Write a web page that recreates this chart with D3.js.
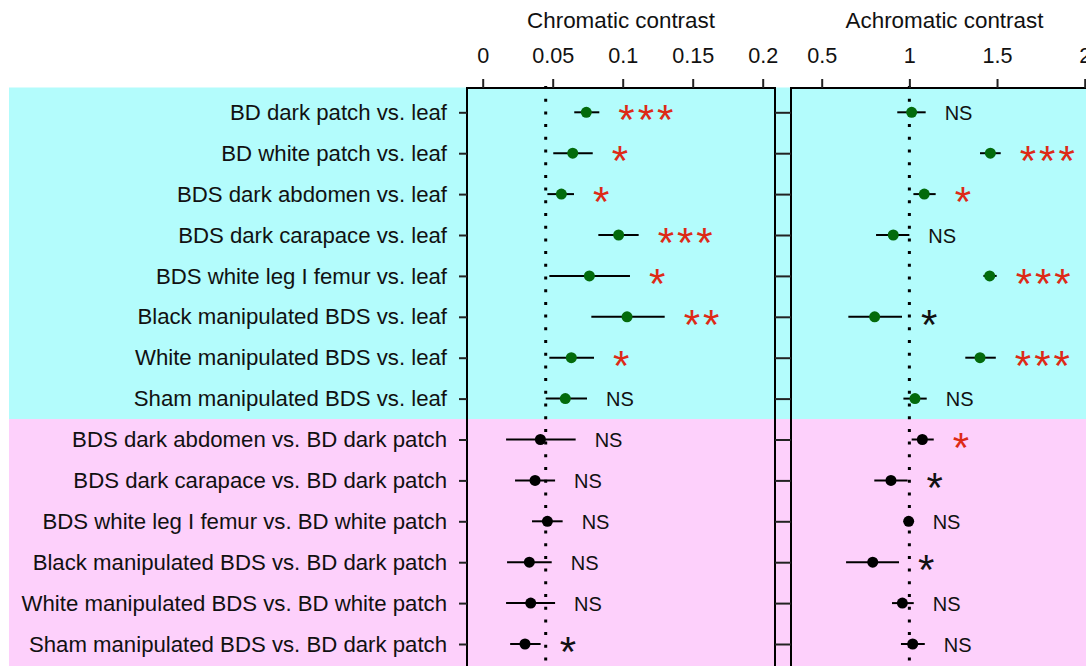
<!DOCTYPE html>
<html>
<head>
<meta charset="utf-8">
<script src="https://cdn.jsdelivr.net/npm/d3@7"></script>
<style>
body { margin: 0; background: #fff; }
svg text { font-family: "Liberation Sans", Arial, sans-serif; fill: #111; }
.axis path.domain { display: none; }
.axis line { stroke: #222; stroke-width: 2; }
</style>
</head>
<body>
<div id="plot"></div>
<script>
var labels = [
	"BD dark patch vs. leaf",
	"BD white patch vs. leaf",
	"BDS dark abdomen vs. leaf",
	"BDS dark carapace vs. leaf",
	"BDS white leg I femur vs. leaf",
	"Black manipulated BDS vs. leaf",
	"White manipulated BDS vs. leaf",
	"Sham manipulated BDS vs. leaf",
	"BDS dark abdomen vs. BD dark patch",
	"BDS dark carapace vs. BD dark patch",
	"BDS white leg I femur vs. BD white patch",
	"Black manipulated BDS vs. BD dark patch",
	"White manipulated BDS vs. BD white patch",
	"Sham manipulated BDS vs. BD dark patch"
];

// chromatic contrast: mean and interval
var chromMean = [0.074, 0.0643, 0.0562, 0.0971, 0.0762, 0.1031, 0.0633, 0.059,
	0.0412, 0.0374, 0.0462, 0.0333, 0.0343, 0.0302];
var chromLo = [0.0654, 0.0504, 0.0462, 0.0826, 0.0476, 0.0776, 0.0476, 0.045,
	0.0167, 0.0231, 0.0352, 0.0174, 0.0167, 0.0196];
var chromHi = [0.0833, 0.0786, 0.0652, 0.1114, 0.1052, 0.130, 0.0795, 0.0745,
	0.0664, 0.0517, 0.0571, 0.0493, 0.0517, 0.0414];
var chromSig = ["***", "*", "*", "***", "*", "**", "*", "NS",
	"NS", "NS", "NS", "NS", "NS", "*"];

// achromatic contrast
var achromMean = [1.013, 1.462, 1.085, 0.908, 1.458, 0.802, 1.403, 1.032,
	1.074, 0.895, 0.996, 0.791, 0.96, 1.019];
var achromLo = [0.931, 1.403, 1.023, 0.810, 1.422, 0.652, 1.319, 0.966,
	1.013, 0.80, 0.99, 0.639, 0.901, 0.952];
var achromHi = [1.093, 1.521, 1.150, 1.0, 1.498, 0.958, 1.493, 1.099,
	1.139, 0.99, 1.002, 0.941, 1.025, 1.088];
var achromSig = ["NS", "***", "*", "NS", "***", "*", "***", "NS",
	"*", "*", "NS", "*", "NS", "NS"];

var chromTicks = [0, 0.05, 0.1, 0.15, 0.2];
var achromTicks = [0.5, 1, 1.5, 2];
var chromThreshold = 0.045;
var achromThreshold = 1;

var width = 1086, height = 666;
var frameTop = 88;

var svg = d3.select("#plot").append("svg")
	.attr("width", width).attr("height", height);

var y = d3.scalePoint().domain(labels).range([112.3, 644]);
var rowStep = y.step();

function isLeaf(label) {
	return label.slice(-4) === "leaf";
}

// background bands
var leafRows = labels.filter(isLeaf);
var bandSplit = y(leafRows[leafRows.length - 1]) + rowStep / 2;
svg.append("rect").attr("x", 9).attr("y", frameTop - 0.5)
	.attr("width", width - 9).attr("height", bandSplit - frameTop + 0.5)
	.attr("fill", "#b3fcfc");
svg.append("rect").attr("x", 9).attr("y", bandSplit)
	.attr("width", width - 9).attr("height", height - bandSplit)
	.attr("fill", "#fdd0fb");

function drawPanel(opts) {
	var x = d3.scaleLinear().domain(opts.domain).range(opts.range);
	var g = svg.append("g");

	// threshold line
	g.append("line")
		.attr("x1", x(opts.threshold)).attr("x2", x(opts.threshold))
		.attr("y1", frameTop - 2).attr("y2", height)
		.attr("stroke", "#000").attr("stroke-width", 3)
		.attr("stroke-dasharray", "3,9.7");

	var rows = labels.map(function(d, i) {
		return {label: d, mean: opts.mean[i], lo: opts.lo[i], hi: opts.hi[i], sig: opts.sig[i]};
	});

	g.selectAll(".err").data(rows).enter().append("line")
		.attr("class", "err")
		.attr("x1", function(d) { return x(d.lo); })
		.attr("x2", function(d) { return x(d.hi); })
		.attr("y1", function(d) { return y(d.label); })
		.attr("y2", function(d) { return y(d.label); })
		.attr("stroke", "#000").attr("stroke-width", 2);

	g.selectAll(".dot").data(rows).enter().append("circle")
		.attr("class", "dot")
		.attr("cx", function(d) { return x(d.mean); })
		.attr("cy", function(d) { return y(d.label); })
		.attr("r", 5.5)
		.attr("fill", function(d) { return isLeaf(d.label) ? "#036b0c" : "#000"; });

	// significance marks, red when above the threshold
	g.selectAll(".sig").data(rows).enter().append("text")
		.attr("class", "sig")
		.attr("x", function(d) { return Math.max(x(d.hi), x(d.mean) + 5) + 19; })
		.attr("y", function(d) {
			return d.sig === "NS" ? y(d.label) + 7.5 : y(d.label) + 22;
		})
		.style("font-size", function(d) { return d.sig === "NS" ? "20px" : "42px"; })
		.style("letter-spacing", function(d) { return d.sig === "NS" ? "0px" : "3px"; })
		.style("fill", function(d) {
			if (d.sig === "NS") return "#111";
			return d.mean > opts.threshold ? "#dd2a17" : "#111";
		})
		.text(function(d) { return d.sig; });

	// frame
	var x0 = opts.frame[0], x1 = opts.frame[1];
	g.append("rect").attr("x", x0).attr("y", frameTop)
		.attr("width", x1 - x0).attr("height", height)
		.attr("fill", "none").attr("stroke", "#000").attr("stroke-width", 2);

	var top = g.append("g").attr("class", "axis")
		.attr("transform", "translate(0," + frameTop + ")")
		.call(d3.axisTop(x).tickValues(opts.ticks).tickSize(9).tickPadding(16)
			.tickFormat(function(d) { return String(d); }));
	top.selectAll("text").style("font-size", "21.6px").attr("fill", "#111");

	var yAxis = g.append("g").attr("class", "axis")
		.attr("transform", "translate(" + x0 + ",0)")
		.call(d3.axisLeft(y).tickSize(8).tickPadding(12)
			.tickFormat(opts.showLabels ? null : ""));
	yAxis.selectAll("text").style("font-size", "22.2px").attr("fill", "#111");

	g.append("g").attr("class", "axis")
		.attr("transform", "translate(" + x1 + ",0)")
		.call(d3.axisRight(y).tickSize(8).tickFormat(""));

	g.append("text")
		.attr("x", (x0 + x1) / 2).attr("y", 28)
		.attr("text-anchor", "middle")
		.style("font-size", "22.4px")
		.text(opts.title);
	return g;
}

drawPanel({
	title: "Chromatic contrast",
	domain: [0, 0.2], range: [482.7, 762.7], frame: [467, 775],
	ticks: chromTicks, threshold: chromThreshold,
	mean: chromMean, lo: chromLo, hi: chromHi, sig: chromSig,
	showLabels: true
});

drawPanel({
	title: "Achromatic contrast",
	domain: [0.5, 2], range: [821.7, 1084.7], frame: [791, 1098],
	ticks: achromTicks, threshold: achromThreshold,
	mean: achromMean, lo: achromLo, hi: achromHi, sig: achromSig,
	showLabels: false
});
</script>
</body>
</html>
